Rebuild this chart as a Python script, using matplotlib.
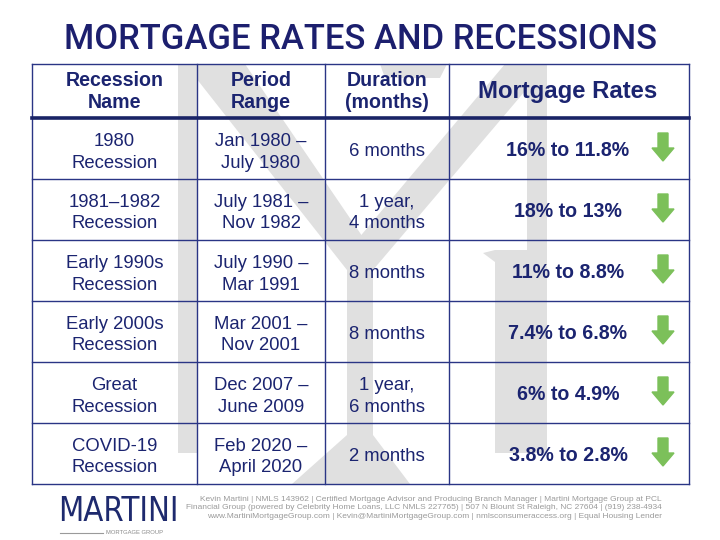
import matplotlib
matplotlib.use("Agg")
import matplotlib.pyplot as plt
from matplotlib.patches import Polygon

# table content
headers = [("Recession", "Name"), ("Period", "Range"), ("Duration", "(months)")]
rates_header = "Mortgage Rates"
names = [("1980", "Recession"), ("1981\u20131982", "Recession"), ("Early 1990s", "Recession"),
         ("Early 2000s", "Recession"), ("Great", "Recession"), ("COVID-19", "Recession")]
periods = [("Jan 1980 \u2013", "July 1980"), ("July 1981 \u2013", "Nov 1982"),
           ("July 1990 \u2013", "Mar 1991"), ("Mar 2001 \u2013", "Nov 2001"),
           ("Dec 2007 \u2013", "June 2009"), ("Feb 2020 \u2013", "April 2020")]
durations = [("6 months",), ("1 year,", "4 months"), ("8 months",), ("8 months",),
             ("1 year,", "6 months"), ("2 months",)]
rate_from = [16, 18, 11, 7.4, 6, 3.8]
rate_to = [11.8, 13, 8.8, 6.8, 4.9, 2.8]

title = "MORTGAGE RATES AND RECESSIONS"
footer = ("Kevin Martini | NMLS 143962 | Certified Mortgage Advisor and Producing Branch Manager | Martini Mortgage Group at PCL\n"
          "Financial Group (powered by Celebrity Home Loans, LLC NMLS 227765) | 507 N Blount St Raleigh, NC 27604 | (919) 238-4934\n"
          "www.MartiniMortgageGroup.com | Kevin@MartiniMortgageGroup.com | nmlsconsumeraccess.org | Equal Housing Lender")

NAVY = "#1b2470"
LINE = "#2a3585"
GREEN = "#7cc05a"
WM = "#e0e0e0"
FONT = "Liberation Sans"

fig = plt.figure(figsize=(7.2, 5.4), dpi=100)
ax = fig.add_axes([0, 0, 1, 1])
ax.set_xlim(0, 720)
ax.set_ylim(540, 0)
ax.axis("off")

left, right, top, hdr_bot, bottom = 32, 689, 64, 118, 484
col_x = [left, 197, 325, 449, right]
nrows = len(names)
row_h = (bottom - hdr_bot) / nrows

# watermark "M" with martini glass
wm_shapes = [
    [(178, top), (197, top), (197, 453), (178, 453)],            # left leg
    [(185, top), (245, top), (373, 252), (373, 285), (347, 270)],  # left arm of glass
    [(548, top), (505, top), (347, 252), (347, 285), (373, 270)],  # right arm of glass
    [(347, 250), (373, 250), (373, 440), (347, 440)],            # stem
    [(347, 435), (373, 435), (410, bottom), (292, bottom)],      # base
    [(527, top), (547, top), (547, 453), (527, 453)],            # right leg top
    [(483, 253), (495, 250), (547, 250), (547, 453), (495, 453), (495, 262)],
    [(380, top), (447, top), (440, 78), (385, 78)],
]
for pts in wm_shapes:
    ax.add_patch(Polygon(pts, closed=True, facecolor=WM, edgecolor="none", zorder=0))

# title
ax.text(360, 49, title, ha="center", va="baseline", fontsize=24.9, color="#1c1f6e",
        family="Roboto", fontweight="medium")

# grid
for x in col_x:
    ax.plot([x, x], [top, bottom], color=LINE, lw=1.0, zorder=2)
ax.plot([left, right], [top, top], color=LINE, lw=1.0, zorder=2)
for i in range(1, nrows + 1):
    y = hdr_bot + i * row_h
    ax.plot([left, right], [y, y], color=LINE, lw=1.0, zorder=2)
ax.plot([left, right], [hdr_bot, hdr_bot], color="#1a2466", lw=2.6, zorder=3)

centers = [(col_x[i] + col_x[i + 1]) / 2 for i in range(3)]
rate_cx = 568
arrow_cx = 663

# header
for cx, (a, b) in zip(centers, headers):
    ax.text(cx, 86, a, ha="center", va="baseline", fontsize=14.1, fontweight="bold",
            color=NAVY, family=FONT, zorder=4)
    ax.text(cx, 108, b, ha="center", va="baseline", fontsize=14.1, fontweight="bold",
            color=NAVY, family=FONT, zorder=4)
ax.text(rate_cx, 98, rates_header, ha="center", va="baseline", fontsize=17.2,
        fontweight="bold", color=NAVY, family=FONT, zorder=4)


def cell(cx, rtop, lines):
    if len(lines) == 1:
        ax.text(cx, rtop + 38, lines[0], ha="center", va="baseline", fontsize=13.3,
                color=NAVY, family=FONT, zorder=4)
    else:
        ax.text(cx, rtop + 28, lines[0], ha="center", va="baseline", fontsize=13.3,
                color=NAVY, family=FONT, zorder=4)
        ax.text(cx, rtop + 49.5, lines[1], ha="center", va="baseline", fontsize=13.3,
                color=NAVY, family=FONT, zorder=4)


for i in range(nrows):
    rtop = hdr_bot + i * row_h
    cell(centers[0], rtop, names[i])
    cell(centers[1], rtop, periods[i])
    cell(centers[2], rtop, durations[i])
    ax.text(rate_cx, rtop + 38, f"{rate_from[i]:g}% to {rate_to[i]:g}%", ha="center",
            va="baseline", fontsize=14.1, fontweight="bold", color=NAVY, family=FONT, zorder=4)
    ax.arrow(arrow_cx, rtop + 15, 0, 28, width=10, head_width=22, head_length=13,
             length_includes_head=True, color=GREEN, zorder=4)

# footer
ax.text(662, 496, footer, ha="right", va="top", multialignment="right", fontsize=6.05,
        color="#9a9a9a", family=FONT, linespacing=1.25)
ax.text(58, 521, "MARTINI", ha="left", va="baseline", fontsize=23.5, color="#1e2a6e",
        family="DejaVu Sans", fontstretch="condensed")
ax.plot([60, 103], [533, 533], color="#9a9a9a", lw=0.8)
ax.text(106, 533, "MORTGAGE GROUP", ha="left", va="center", fontsize=4.2, color="#8a8a8a",
        family=FONT)

fig.savefig("out.png", dpi=100)
